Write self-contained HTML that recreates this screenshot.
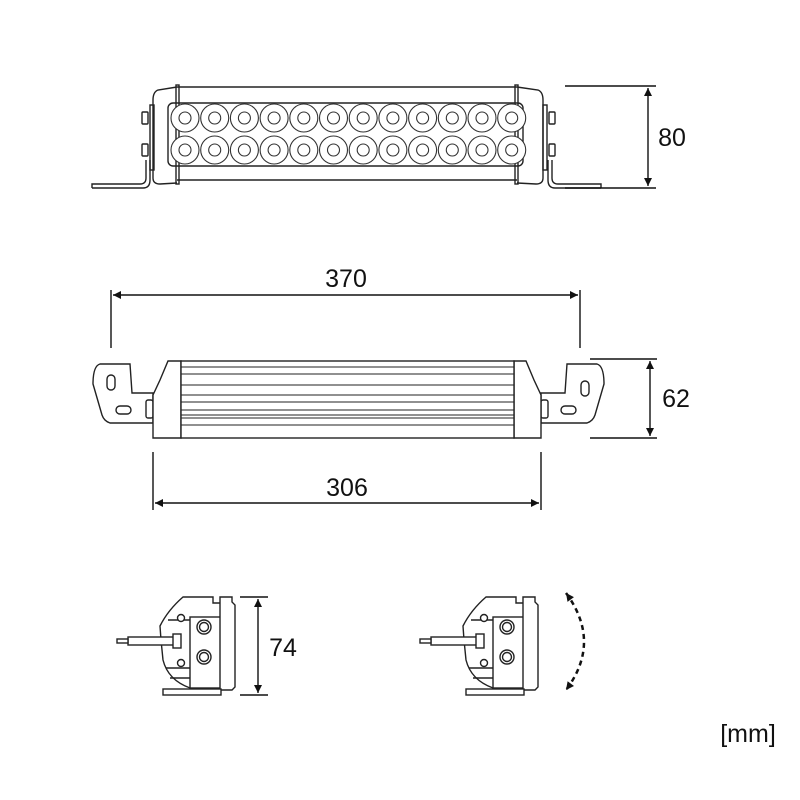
<!DOCTYPE html><html><head><style>body{margin:0;background:#fff}svg{display:block}text{font-family:"Liberation Sans",sans-serif;fill:#111}</style></head><body>
<svg width="800" height="800" viewBox="0 0 800 800" xmlns="http://www.w3.org/2000/svg">
<defs>
<marker id="a" viewBox="0 0 10 10" refX="10" refY="5" markerWidth="11" markerHeight="8" orient="auto-start-reverse" markerUnits="userSpaceOnUse"><path d="M0,0L10,5L0,10z" fill="#111"/></marker>
<g id="dev" fill="#fff" stroke="#222" stroke-width="1.4">
<path d="M183,597 L213,597 L213,603 L221,603 L221,688 L190,688 Q168,680 163,660 L161,640 L160,626 Q168,610 183,597z"/>
<path d="M168,620 L214,620"/><path d="M166,668 L190,668"/><path d="M170,678 L190,678"/>
<circle cx="181" cy="618" r="3.5"/><circle cx="181" cy="663" r="3.5"/>
<rect x="190" y="617" width="31" height="71"/>
<circle cx="204" cy="627" r="7"/><circle cx="204" cy="627" r="4.5"/>
<circle cx="204" cy="657" r="7"/><circle cx="204" cy="657" r="4.5"/>
<path d="M220,597 L232,597 L232,602 L235,605 L235,687 L232,690 L220,690z"/>
<rect x="163" y="689" width="58" height="6"/>
<rect x="128" y="637" width="47" height="8"/><rect x="117" y="639" width="11" height="4"/>
<rect x="173" y="634" width="8" height="14"/>
</g>
</defs>
<g fill="none" stroke="#222" stroke-width="1.4">
<path d="M92,188 L143,188 Q150,188 150,180 L150,160"/><path d="M92,188 L92,184 L140,184 Q146,184 146,178 L146,160"/>
<path d="M601,188 L555,188 Q548,188 548,180 L548,160"/><path d="M601,188 L601,184 L558,184 Q552,184 552,178 L552,160"/>
<path d="M177,87 L517,87 M177,180 L517,180"/>
<path d="M177,87 L158,90 Q153,92 153,100 L153,178 Q153,184 160,184 L177,183"/>
<path d="M517,87 L538,90 Q543,92 543,100 L543,178 Q543,184 536,184 L517,183"/>
<rect x="150" y="105" width="4" height="65"/><rect x="543" y="105" width="4" height="65"/>
<rect x="142" y="112" width="6" height="12" rx="1"/><rect x="142" y="144" width="6" height="12" rx="1"/>
<rect x="549" y="112" width="6" height="12" rx="1"/><rect x="549" y="144" width="6" height="12" rx="1"/>
<rect x="176" y="85" width="3" height="99"/><rect x="515" y="85" width="3" height="99"/>
<rect x="168" y="103" width="355" height="63" rx="5"/>
</g>
<g fill="#fff" stroke="#222" stroke-width="1.4">
<path d="M100,364 L130,364 L132,393 L153,393 L153,423 L110,423 Q104,421 102,415 L93,384 Q93,366 100,364z"/>
<path d="M597,364 L567,364 L565,393 L541,393 L541,423 L587,423 Q593,421 595,415 L604,384 Q604,366 597,364z"/>
<rect x="107" y="375" width="8" height="15" rx="4"/><rect x="116" y="406" width="15" height="8" rx="4"/>
<rect x="581" y="381" width="8" height="15" rx="4"/><rect x="561" y="406" width="15" height="8" rx="4"/>
<rect x="146" y="400" width="7" height="18" rx="2"/><rect x="541" y="400" width="7" height="18" rx="2"/>
<path d="M168,361 L181,361 L181,438 L153,438 L153,420 L153,395 L160,380z"/>
<path d="M526,361 L514,361 L514,438 L541,438 L541,395 L534,380z"/>
<rect x="181" y="361" width="333" height="77"/>
<path d="M181,367 H514 M181,374 H514 M181,385 H514 M181,395 H514 M181,402 H514 M181,410 H514 M181,415 H514 M181,418 H514 M181,425 H514" fill="none" stroke-width="1.1"/>
</g>
<use href="#dev"/><use href="#dev" transform="translate(303,0)"/>
<g stroke="#111" stroke-width="1.4" fill="none">
<path d="M565,86 H656 M565,188 H656"/><path d="M648,88 V186" marker-start="url(#a)" marker-end="url(#a)"/>
<path d="M111,290 V348 M580,290 V348"/><path d="M113,295 H578" marker-start="url(#a)" marker-end="url(#a)"/>
<path d="M590,359 H657 M590,438 H657"/><path d="M650,361 V436" marker-start="url(#a)" marker-end="url(#a)"/>
<path d="M153,452 V510 M541,452 V510"/><path d="M155,503 H539" marker-start="url(#a)" marker-end="url(#a)"/>
<path d="M240,597 H268 M240,695 H268"/><path d="M258,599 V693" marker-start="url(#a)" marker-end="url(#a)"/>
<path d="M566,593 Q602,642 566,690" stroke-width="2.5" stroke-dasharray="5,4" marker-start="url(#a)" marker-end="url(#a)"/>
</g>
<text x="672" y="146" font-size="25" text-anchor="middle">80</text>
<text x="346" y="287" font-size="25" text-anchor="middle">370</text>
<text x="676" y="407" font-size="25" text-anchor="middle">62</text>
<text x="347" y="496" font-size="25" text-anchor="middle">306</text>
<text x="283" y="656" font-size="25" text-anchor="middle">74</text>
<text x="748" y="742" font-size="25" text-anchor="middle">[mm]</text>
<g fill="#fff" stroke="#333" stroke-width="1.1">
<g id="row">
<circle cx="185" cy="118" r="14"/><circle cx="214.7" cy="118" r="14"/><circle cx="244.4" cy="118" r="14"/><circle cx="274.1" cy="118" r="14"/><circle cx="303.8" cy="118" r="14"/><circle cx="333.5" cy="118" r="14"/><circle cx="363.2" cy="118" r="14"/><circle cx="392.9" cy="118" r="14"/><circle cx="422.6" cy="118" r="14"/><circle cx="452.3" cy="118" r="14"/><circle cx="482" cy="118" r="14"/><circle cx="511.7" cy="118" r="14"/>
<circle cx="185" cy="118" r="6"/><circle cx="214.7" cy="118" r="6"/><circle cx="244.4" cy="118" r="6"/><circle cx="274.1" cy="118" r="6"/><circle cx="303.8" cy="118" r="6"/><circle cx="333.5" cy="118" r="6"/><circle cx="363.2" cy="118" r="6"/><circle cx="392.9" cy="118" r="6"/><circle cx="422.6" cy="118" r="6"/><circle cx="452.3" cy="118" r="6"/><circle cx="482" cy="118" r="6"/><circle cx="511.7" cy="118" r="6"/>
</g>
<use href="#row" transform="translate(0,32)"/>
</g>
</svg>
</body></html>
